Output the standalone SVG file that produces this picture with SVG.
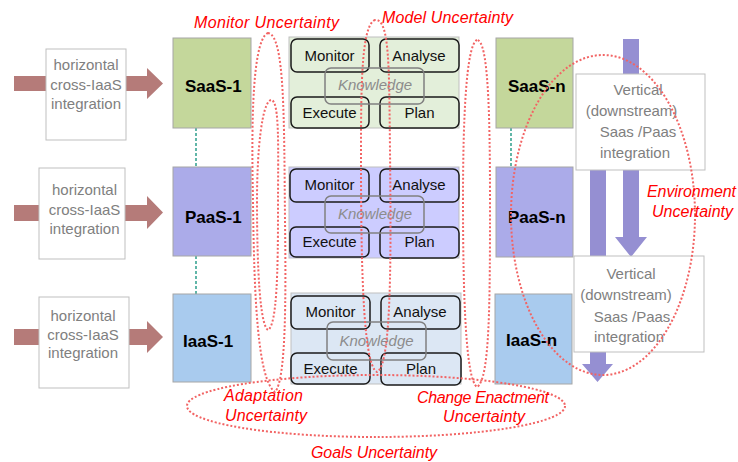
<svg xmlns="http://www.w3.org/2000/svg" width="738" height="462" viewBox="0 0 738 462">
<style>
.harrow{fill:#B57B79}
.varrow{fill:#958FD2}
.tbox{fill:#FFFFFF;stroke:#BFBFBF;stroke-width:1}
.gtxt{font-family:"Liberation Sans",Arial,sans-serif;font-size:15px;fill:#808080;text-anchor:middle}
.layer{stroke:#A6A6A6;stroke-width:1}
.ltxt{font-family:"Liberation Sans",Arial,sans-serif;font-size:17px;font-weight:bold;fill:#000000}
.panel{stroke:#BFBFBF;stroke-width:1}
.mb{stroke:#1A1A1A;stroke-width:1.5}
.kb{fill:none;stroke:#808080;stroke-width:1.5}
.mt{font-family:"Liberation Sans",Arial,sans-serif;font-size:15px;fill:#111111;text-anchor:middle}
.kt{font-family:"Liberation Sans",Arial,sans-serif;font-size:15px;font-style:italic;fill:#8C8C8C;text-anchor:middle}
.teal{stroke:#2E9E8C;stroke-width:1.5;stroke-dasharray:3 2;fill:none}
.dot{fill:none;stroke:#F26464;stroke-width:2;stroke-dasharray:2 2}
.rt{font-family:"Liberation Sans",Arial,sans-serif;font-size:16px;font-style:italic;fill:#FF0000}
.green{fill:#C4D79B}.purple{fill:#ABABE9}.blue{fill:#A9CBEE}
.pg{fill:#E3EFDA}.pp{fill:#CCCCFF}.pb{fill:#DCE7F4}
</style>

<g id="connectors">
  <polygon class="harrow" points="14,76 147,76 147,68 163,83.5 147,99 147,91 14,91"/>
  <polygon class="harrow" points="14,205 147,205 147,196 163,212.5 147,229 147,221 14,221"/>
  <polygon class="harrow" points="14,329 147,329 147,321 163,337 147,353 147,345 14,345"/>
  <line class="teal" x1="196" y1="128" x2="196" y2="166"/>
  <line class="teal" x1="196" y1="256" x2="196" y2="294"/>
  <line class="teal" x1="511" y1="128" x2="511" y2="167"/>
  <polygon class="varrow" points="623,39 639,39 639,237 647,237 631,257 615,237 623,237"/>
  <polygon class="varrow" points="590,170 606,170 606,364 613,364 597.5,382 582,364 590,364"/>
</g>

<g id="h1">
  <rect class="tbox" x="46" y="49" width="80" height="91"/>
  <text class="gtxt" x="86" y="70">horizontal</text>
  <text class="gtxt" x="86" y="90">cross-IaaS</text>
  <text class="gtxt" x="86" y="109">integration</text>
</g>
<g id="h2">
  <rect class="tbox" x="39" y="168" width="86" height="91"/>
  <text class="gtxt" x="84.5" y="195">horizontal</text>
  <text class="gtxt" x="84.5" y="215">cross-IaaS</text>
  <text class="gtxt" x="84.5" y="234">integration</text>
</g>
<g id="h3">
  <rect class="tbox" x="39" y="297" width="90" height="91"/>
  <text class="gtxt" x="83" y="321">horizontal</text>
  <text class="gtxt" x="83" y="340">cross-IaaS</text>
  <text class="gtxt" x="83" y="358">integration</text>
</g>

<g id="saas1">
  <rect class="layer green" x="173" y="38" width="78" height="90"/>
  <text class="ltxt" x="185" y="92">SaaS-1</text>
</g>
<g id="paas1">
  <rect class="layer purple" x="173" y="167" width="78" height="89"/>
  <text class="ltxt" x="185" y="223">PaaS-1</text>
</g>
<g id="iaas1">
  <rect class="layer blue" x="173" y="294" width="78" height="88"/>
  <text class="ltxt" x="183" y="347">IaaS-1</text>
</g>

<g id="mape1">
  <rect class="panel pg" x="289" y="37" width="170" height="91"/>
  <rect class="mb pg" x="291" y="39" width="78" height="33" rx="6"/>
  <rect class="mb pg" x="380" y="39" width="79" height="33" rx="6"/>
  <rect class="mb pg" x="291" y="97" width="78" height="31" rx="6"/>
  <rect class="mb pg" x="380" y="97" width="79" height="31" rx="6"/>
  <rect class="kb" x="325" y="68" width="99" height="36" rx="6"/>
  <text class="mt" x="329.5" y="61">Monitor</text>
  <text class="mt" x="419" y="61">Analyse</text>
  <text class="kt" x="375" y="90">Knowledge</text>
  <text class="mt" x="329.5" y="118">Execute</text>
  <text class="mt" x="419.5" y="118">Plan</text>
</g>
<g id="mape2">
  <rect class="panel pp" x="289" y="167" width="170" height="91"/>
  <rect class="mb pp" x="290" y="169" width="79" height="33" rx="6"/>
  <rect class="mb pp" x="380" y="169" width="79" height="33" rx="6"/>
  <rect class="mb pp" x="290" y="227" width="79" height="30" rx="6"/>
  <rect class="mb pp" x="380" y="227" width="79" height="31" rx="6"/>
  <rect class="kb" x="325" y="196" width="99" height="37" rx="6"/>
  <text class="mt" x="329.5" y="190">Monitor</text>
  <text class="mt" x="419" y="190">Analyse</text>
  <text class="kt" x="375" y="219">Knowledge</text>
  <text class="mt" x="329.5" y="247">Execute</text>
  <text class="mt" x="419.5" y="247">Plan</text>
</g>
<g id="mape3">
  <rect class="panel pb" x="291" y="293" width="170" height="91"/>
  <rect class="mb pb" x="291" y="296" width="79" height="33" rx="6"/>
  <rect class="mb pb" x="381" y="296" width="79" height="33" rx="6"/>
  <rect class="mb pb" x="291" y="353" width="79" height="31" rx="6"/>
  <rect class="mb pb" x="381" y="353" width="80" height="32" rx="6"/>
  <rect class="kb" x="327" y="322" width="99" height="38" rx="6"/>
  <text class="mt" x="330.5" y="317">Monitor</text>
  <text class="mt" x="420" y="317">Analyse</text>
  <text class="kt" x="376.5" y="346">Knowledge</text>
  <text class="mt" x="330.5" y="374">Execute</text>
  <text class="mt" x="421" y="374">Plan</text>
</g>

<g id="saasn">
  <rect class="layer green" x="496" y="38" width="77" height="90"/>
  <text class="ltxt" x="508" y="92">SaaS-n</text>
</g>
<g id="paasn">
  <rect class="layer purple" x="496" y="167" width="77" height="90"/>
  <text class="ltxt" x="508" y="223">PaaS-n</text>
</g>
<g id="iaasn">
  <rect class="layer blue" x="495" y="294" width="77" height="90"/>
  <text class="ltxt" x="506" y="346">IaaS-n</text>
</g>

<g id="v1">
  <rect class="tbox" x="576" y="74" width="129" height="96"/>
  <text class="gtxt" x="638" y="95">Vertical</text>
  <text class="gtxt" x="631.5" y="116">(downstream)</text>
  <text class="gtxt" x="638" y="137">Saas /Paas</text>
  <text class="gtxt" x="635" y="158">integration</text>
</g>
<g id="v2">
  <rect class="tbox" x="574" y="256" width="130" height="96"/>
  <text class="gtxt" x="631" y="279">Vertical</text>
  <text class="gtxt" x="626" y="300">(downstream)</text>
  <text class="gtxt" x="632" y="322">Saas /Paas</text>
  <text class="gtxt" x="629" y="342">integration</text>
</g>

<g id="uncertainty">
  <path class="dot" d="M268,33 C250,40 252,150 253,200 C254,300 258,380 275,392 C286,380 286,300 285,220 C284,120 285,35 268,33 Z"/>
  <path class="dot" d="M271,100 C262,102 257,150 257,200 C257,270 260,325 268,330 C277,325 278,270 278,210 C278,150 280,100 271,100 Z"/>
  <path class="dot" d="M375,20 C362,25 361,80 361,150 C361,250 362,365 377,372 C392,365 391,250 390,150 C389,70 390,18 375,20 Z"/>
  <path class="dot" d="M477,40 C466,45 463,120 463,200 C463,300 466,380 477,387 C490,380 490,300 490,200 C490,110 488,40 477,40 Z"/>
  <ellipse class="dot" cx="603" cy="215" rx="92" ry="160"/>
  <ellipse class="dot" cx="376" cy="406" rx="189" ry="31"/>
  <text class="rt" x="194" y="28" textLength="145">Monitor Uncertainty</text>
  <text class="rt" x="382" y="23" textLength="131">Model Uncertainty</text>
  <text class="rt" x="647" y="197" textLength="89">Environment</text>
  <text class="rt" x="652" y="217" textLength="81">Uncertainty</text>
  <text class="rt" x="224" y="401" textLength="79">Adaptation</text>
  <text class="rt" x="225" y="421" textLength="82">Uncertainty</text>
  <text class="rt" x="417" y="403" textLength="132">Change Enactment</text>
  <text class="rt" x="443" y="422" textLength="82">Uncertainty</text>
  <text class="rt" x="311" y="458" textLength="126">Goals Uncertainty</text>
</g>
</svg>
